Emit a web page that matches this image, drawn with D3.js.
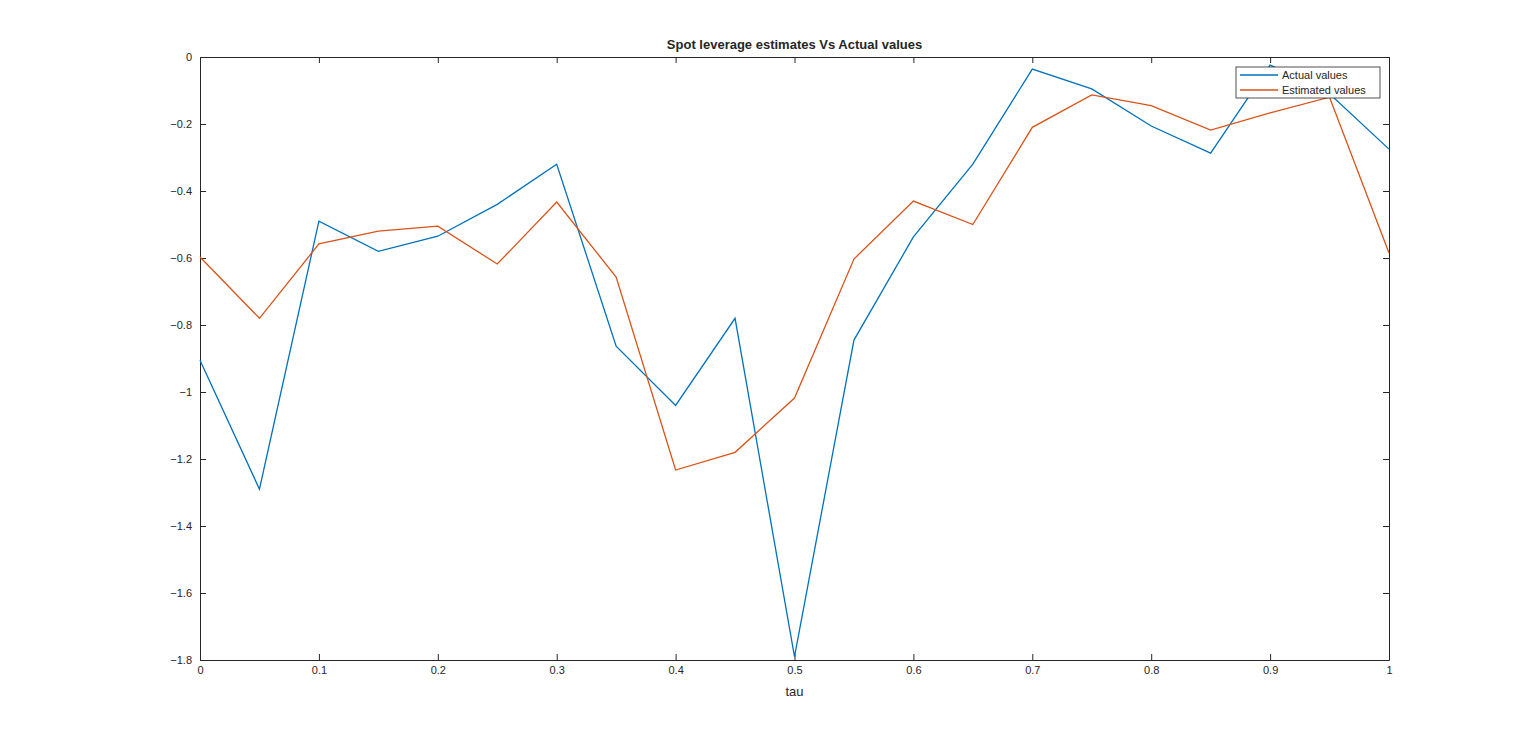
<!DOCTYPE html>
<html><head><meta charset="utf-8">
<script src="https://cdn.jsdelivr.net/npm/d3@7"></script>
<style>
body{margin:0;background:#fff;font-family:"Liberation Sans",Arial,sans-serif;}
text{fill:#262626;}
</style></head><body>
<svg id="chart" width="1536" height="744"></svg>
<script>
var tau = [0,0.05,0.1,0.15,0.2,0.25,0.3,0.35,0.4,0.45,0.5,0.55,0.6,0.65,0.7,0.75,0.8,0.85,0.9,0.95,1];
var actual = [-0.905,-1.29,-0.49,-0.58,-0.535,-0.44,-0.32,-0.863,-1.04,-0.78,-1.79,-0.845,-0.537,-0.32,-0.036,-0.095,-0.206,-0.287,-0.024,-0.11,-0.275];
var estimated = [-0.597,-0.78,-0.558,-0.52,-0.505,-0.618,-0.433,-0.657,-1.233,-1.18,-1.018,-0.603,-0.43,-0.5,-0.21,-0.113,-0.145,-0.218,-0.167,-0.12,-0.585];
var xTicks = [0,0.1,0.2,0.3,0.4,0.5,0.6,0.7,0.8,0.9,1];
var yTicks = [0,-0.2,-0.4,-0.6,-0.8,-1,-1.2,-1.4,-1.6,-1.8];

var svg = d3.select("#chart");
var plotLeft = 200, plotRight = 1389, plotTop = 57, plotBottom = 660;
var x = d3.scaleLinear().domain([0,1]).range([plotLeft,plotRight]);
var y = d3.scaleLinear().domain([-1.8,0]).range([plotBottom,plotTop]);

function fmt(d){ return d3.format("")(+d.toFixed(1)); }

svg.append("g").attr("transform","translate(0,"+plotBottom+")")
  .call(d3.axisBottom(x).tickValues(xTicks).tickSizeInner(-6).tickSizeOuter(0).tickPadding(6).tickFormat(fmt));
svg.append("g").attr("transform","translate(0,"+plotTop+")")
  .call(d3.axisTop(x).tickValues(xTicks).tickSizeInner(-6).tickSizeOuter(0).tickFormat(""));
svg.append("g").attr("transform","translate("+plotLeft+",0)")
  .call(d3.axisLeft(y).tickValues(yTicks).tickSizeInner(-6).tickSizeOuter(0).tickPadding(8).tickFormat(fmt));
svg.append("g").attr("transform","translate("+plotRight+",0)")
  .call(d3.axisRight(y).tickValues(yTicks).tickSizeInner(-6).tickSizeOuter(0).tickFormat(""));
svg.selectAll(".domain, .tick line").attr("stroke","#262626");
svg.selectAll(".tick text").attr("font-size",11).attr("font-family","Liberation Sans, Arial, sans-serif").style("fill","#262626");

var line = d3.line().x(function(d,i){return x(tau[i]);}).y(function(d){return y(d);});
svg.append("path").datum(actual).attr("d",line).attr("fill","none").attr("stroke","#0072bd").attr("stroke-width",1.3);
svg.append("path").datum(estimated).attr("d",line).attr("fill","none").attr("stroke","#d95319").attr("stroke-width",1.3);

svg.append("text").attr("x",(plotLeft+plotRight)/2).attr("y",49).attr("text-anchor","middle")
  .attr("font-size",13).attr("font-weight","bold").text("Spot leverage estimates Vs Actual values");
svg.append("text").attr("x",(plotLeft+plotRight)/2).attr("y",696).attr("text-anchor","middle")
  .attr("font-size",13).text("tau");

var lg = svg.append("g").attr("transform","translate(1236,67)");
lg.append("rect").attr("width",144).attr("height",31).attr("fill","#fff").attr("stroke","#262626").attr("stroke-width",0.8);
[["Actual values","#0072bd"],["Estimated values","#d95319"]].forEach(function(s,i){
  var yy = 8 + i*15;
  lg.append("line").attr("x1",4).attr("x2",42).attr("y1",yy).attr("y2",yy).attr("stroke",s[1]).attr("stroke-width",1.3);
  lg.append("text").attr("x",46).attr("y",yy+4).attr("font-size",11).text(s[0]);
});
</script>
</body></html>
